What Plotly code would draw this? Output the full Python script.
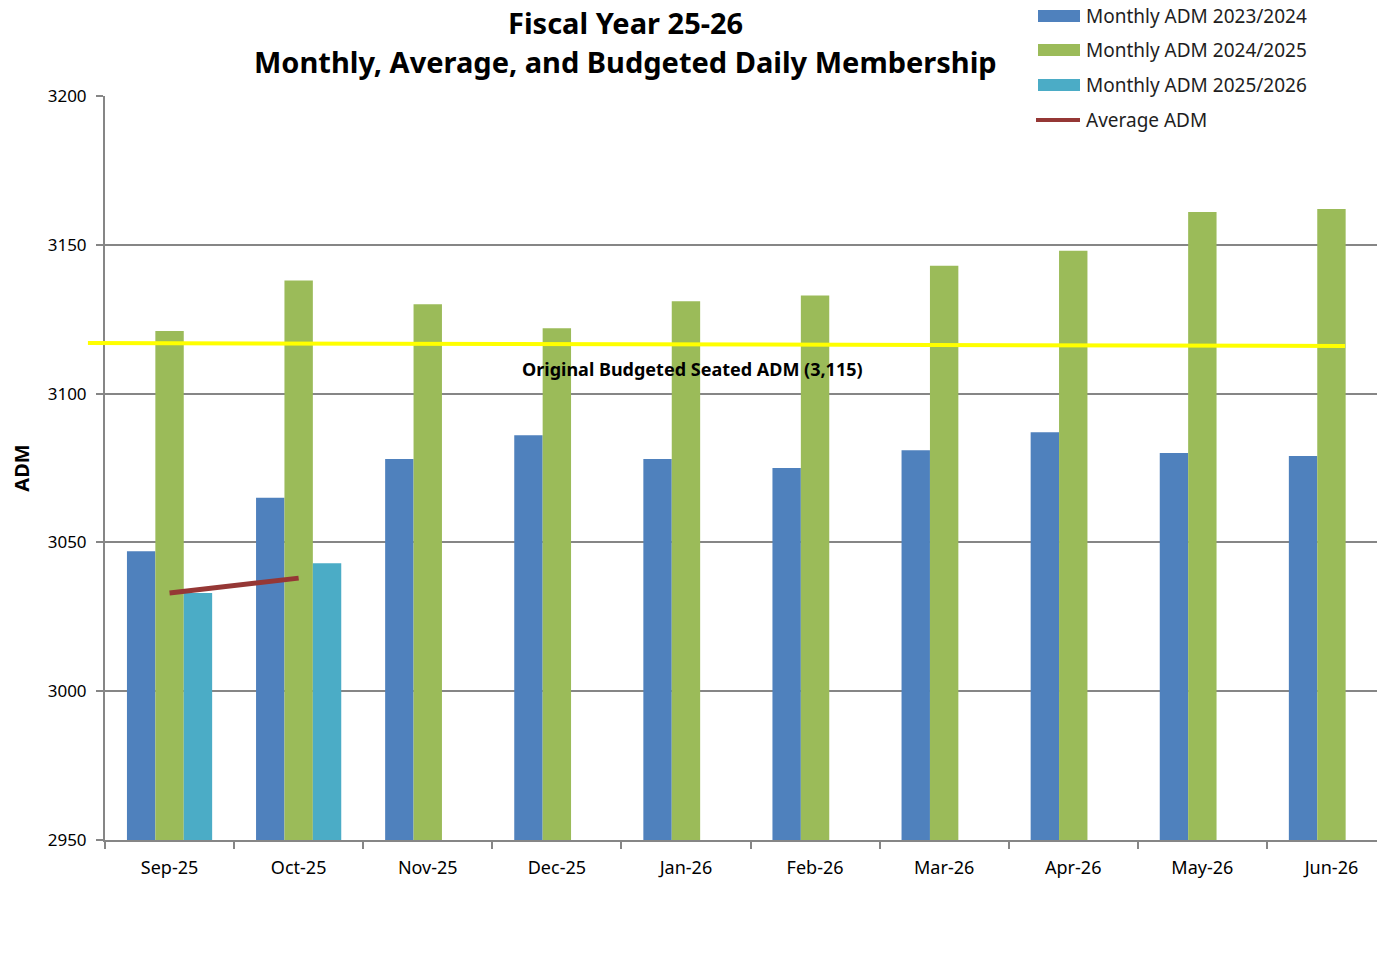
import plotly.graph_objects as go

months = ["Sep-25", "Oct-25", "Nov-25", "Dec-25", "Jan-26", "Feb-26", "Mar-26", "Apr-26", "May-26", "Jun-26"]
adm_2324 = [3047, 3065, 3078, 3086, 3078, 3075, 3081, 3087, 3080, 3079]
adm_2425 = [3121, 3138, 3130, 3122, 3131, 3133, 3143, 3148, 3161, 3162]
adm_2526 = [3033, 3043, None, None, None, None, None, None, None, None]
avg_adm = [3033, 3038]
budget_y = [3117, 3116]
budget_label = "Original Budgeted Seated ADM (3,115)"
title_lines = ["Fiscal Year 25-26", "Monthly, Average, and Budgeted Daily Membership"]
series_names = ["Monthly ADM 2023/2024", "Monthly ADM 2024/2025", "Monthly ADM 2025/2026", "Average ADM"]
colors = ["#4F81BD", "#9BBB59", "#4BACC6", "#953735"]

xpos = list(range(len(months)))
FONT = "Noto Sans"

fig = go.Figure()
for vals, name, col in zip([adm_2324, adm_2425, adm_2526], series_names[:3], colors[:3]):
    fig.add_trace(go.Bar(x=xpos, y=[(v - 2950) if v is not None else None for v in vals], base=2950,
                         name=name, showlegend=False, marker=dict(color=col, line=dict(width=0))))
fig.add_trace(go.Scatter(x=xpos[:len(avg_adm)], y=avg_adm, mode="lines", name=series_names[3],
                         showlegend=False, line=dict(color=colors[3], width=5)))

# budget reference line (extends slightly left of the axis as in the original)
fig.add_shape(type="line", xref="paper", yref="y", x0=-0.0132, x1=0.9605,
              y0=budget_y[0], y1=budget_y[1], line=dict(color="#FFFF00", width=4), layer="above")

fig.add_annotation(x=4.047, y=3108.3, xref="x", yref="y", text="<b>" + budget_label + "</b>",
                   showarrow=False, font=dict(family=FONT, size=18, color="black"))

fig.add_annotation(x=0.4028, y=1.0985, xref="paper", yref="paper", text="<b>" + title_lines[0] + "</b>",
                   showarrow=False, xanchor="center", yanchor="middle",
                   font=dict(family=FONT, size=29, color="black"))
fig.add_annotation(x=0.4028, y=1.0457, xref="paper", yref="paper", text="<b>" + title_lines[1] + "</b>",
                   showarrow=False, xanchor="center", yanchor="middle",
                   font=dict(family=FONT, size=29, color="black"))

# legend drawn by hand (wide swatches, as in the original)
PX0, PW, PY1, PH = 105, 1291, 840, 744  # plot area in page pixels
def px(X):
    return (X - PX0) / PW
def py(Y):
    return (PY1 - Y) / PH
leg_rows = [16, 50, 85, 120]
for i, (name, col) in enumerate(zip(series_names, colors)):
    yc = leg_rows[i]
    if i < 3:
        fig.add_shape(type="rect", xref="paper", yref="paper", x0=px(1038), x1=px(1080),
                      y0=py(yc + 6), y1=py(yc - 6), fillcolor=col, line=dict(width=0), layer="above")
    else:
        fig.add_shape(type="line", xref="paper", yref="paper", x0=px(1036), x1=px(1080),
                      y0=py(yc), y1=py(yc), line=dict(color=col, width=4), layer="above")
    fig.add_annotation(x=px(1084), y=py(yc), xref="paper", yref="paper", text=name, showarrow=False,
                       xanchor="left", yanchor="middle", font=dict(family=FONT, size=19, color="#1e1e1e"))

# page body has an 8px margin; compensate so the plot lands at the same place
W, H = 1388, 956
fig.update_layout(
    width=W, height=H,
    margin=dict(l=97, r=0, t=88, b=124, autoexpand=False),
    plot_bgcolor="white", paper_bgcolor="white",
    barmode="group", bargap=0.34, bargroupgap=0,
    showlegend=False,
    font=dict(family=FONT),
)
fig.update_xaxes(range=[-0.5, 9.5], tickvals=xpos, ticktext=months, ticks="", showgrid=False,
                 showline=True, linecolor="#868686", linewidth=2, ticklabelstandoff=10,
                 tickfont=dict(family=FONT, size=18, color="black"),
                 minor=dict(tick0=-0.5, dtick=1, ticks="outside", ticklen=7, tickcolor="#868686", tickwidth=2, showgrid=False))
fig.update_yaxes(range=[2950, 3200], dtick=50, showgrid=True, gridcolor="#868686", gridwidth=2,
                 showline=True, linecolor="#868686", linewidth=2, ticks="outside", ticklen=7,
                 tickcolor="#868686", tickwidth=2, zeroline=False, ticklabelstandoff=6,
                 tickfont=dict(family=FONT, size=17, color="black"),
                 title=dict(text="<b>ADM</b>", font=dict(family=FONT, size=20, color="black"), standoff=14))

fig.write_html("out.html")
